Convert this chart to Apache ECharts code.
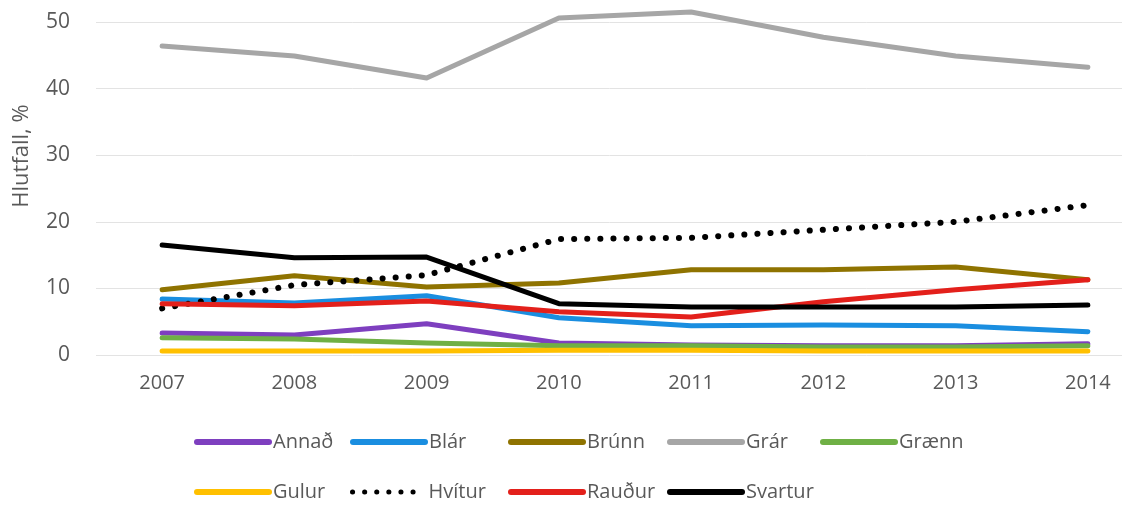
<!DOCTYPE html>
<html><head><meta charset="utf-8">
<script src="https://cdn.jsdelivr.net/npm/echarts@6/dist/echarts.min.js"></script>
<style>html,body{margin:0;padding:0;background:#fff}#c{width:1122px;height:510px}</style>
</head><body><div id="c"></div>
<script>
var years = ['2007','2008','2009','2010','2011','2012','2013','2014'];
var annad   = [3.3, 3.0, 4.7, 1.8, 1.5, 1.4, 1.4, 1.7];
var blar    = [8.4, 7.8, 8.9, 5.6, 4.4, 4.5, 4.4, 3.5];
var brunn   = [9.8, 11.9, 10.2, 10.8, 12.8, 12.8, 13.2, 11.3];
var grar    = [46.4, 44.9, 41.6, 50.6, 51.5, 47.7, 44.9, 43.2];
var graenn  = [2.6, 2.4, 1.8, 1.4, 1.4, 1.2, 1.2, 1.4];
var gulur   = [0.6, 0.6, 0.6, 0.7, 0.7, 0.6, 0.6, 0.6];
var hvitur  = [7.0, 10.5, 12.0, 17.4, 17.6, 18.8, 20.0, 22.5];
var raudur  = [7.7, 7.4, 8.1, 6.5, 5.7, 8.0, 9.8, 11.3];
var svartur = [16.5, 14.6, 14.7, 7.7, 7.2, 7.2, 7.2, 7.5];
var yTicks = [0, 10, 20, 30, 40, 50];

var names = ['Annað','Blár','Brúnn','Grár','Grænn','Gulur','Hvítur','Rauður','Svartur'];
var datas = [annad, blar, brunn, grar, graenn, gulur, hvitur, raudur, svartur];
var colors = ['#7e3fbf','#1a8ee0','#8f7300','#a6a6a6','#6fb045','#ffc000','#000000','#e3201b','#000000'];

var series = names.map(function(n, i){
  var ls = {width: 5, color: colors[i], cap: 'round', join: 'round'};
  if (n === 'Hvítur') { ls.type = [0.1, 13]; ls.width = 6; }
  return {name: n, type: 'line', data: datas[i], symbol: 'none', showSymbol: false, lineStyle: ls, clip: false,
          itemStyle: {color: colors[i]}, z: 2 + i, animation: false};
});

var legPos = [[194,432],[350,432],[508,432],[667,432],[820,432],[194,482],[350,482],[508,482],[667,482]];
var legends = names.map(function(n, i){
  var lls = {width: 6, cap: 'round', color: colors[i]};
  if (n === 'Hvítur') { lls.type = [0.1, 12]; lls.width = 5; }
  return {data: [n], left: legPos[i][0], top: legPos[i][1], itemWidth: 72, itemHeight: 6, itemGap: 0,
    padding: 0, itemStyle: {color: 'rgba(0,0,0,0)', borderWidth: 0, opacity: 0}, lineStyle: lls,
    textStyle: {color: '#595959', fontSize: 20, fontFamily: 'Open Sans', padding: [0,0,0,-1]}};
});

var chart = echarts.init(document.getElementById('c'), null, {renderer: 'canvas'});
chart.setOption({
  animation: false,
  backgroundColor: '#fff',
  grid: {left: 96, width: 1058, top: 22, bottom: 155, containLabel: false, outerBoundsMode: 'none'},
  legend: legends,
  xAxis: {type: 'category', data: years, boundaryGap: true,
    axisLine: {show: false}, axisTick: {show: false},
    axisLabel: {color: '#595959', fontSize: 20, fontFamily: 'Open Sans', margin: 18}},
  yAxis: {type: 'value', min: yTicks[0], max: yTicks[yTicks.length-1], interval: 10,
    name: 'Hlutfall, %', nameLocation: 'middle', nameGap: 63, nameRotate: 90,
    nameTextStyle: {color: '#595959', fontSize: 22, fontFamily: 'Open Sans', padding: [0,0,0,65]},
    axisLine: {show: false}, axisTick: {show: false},
    axisLabel: {color: '#595959', fontSize: 21, fontFamily: 'Open Sans', margin: 26},
    splitLine: {lineStyle: {color: '#e3e3e3', width: 1}}},
  series: series
});
</script></body></html>
